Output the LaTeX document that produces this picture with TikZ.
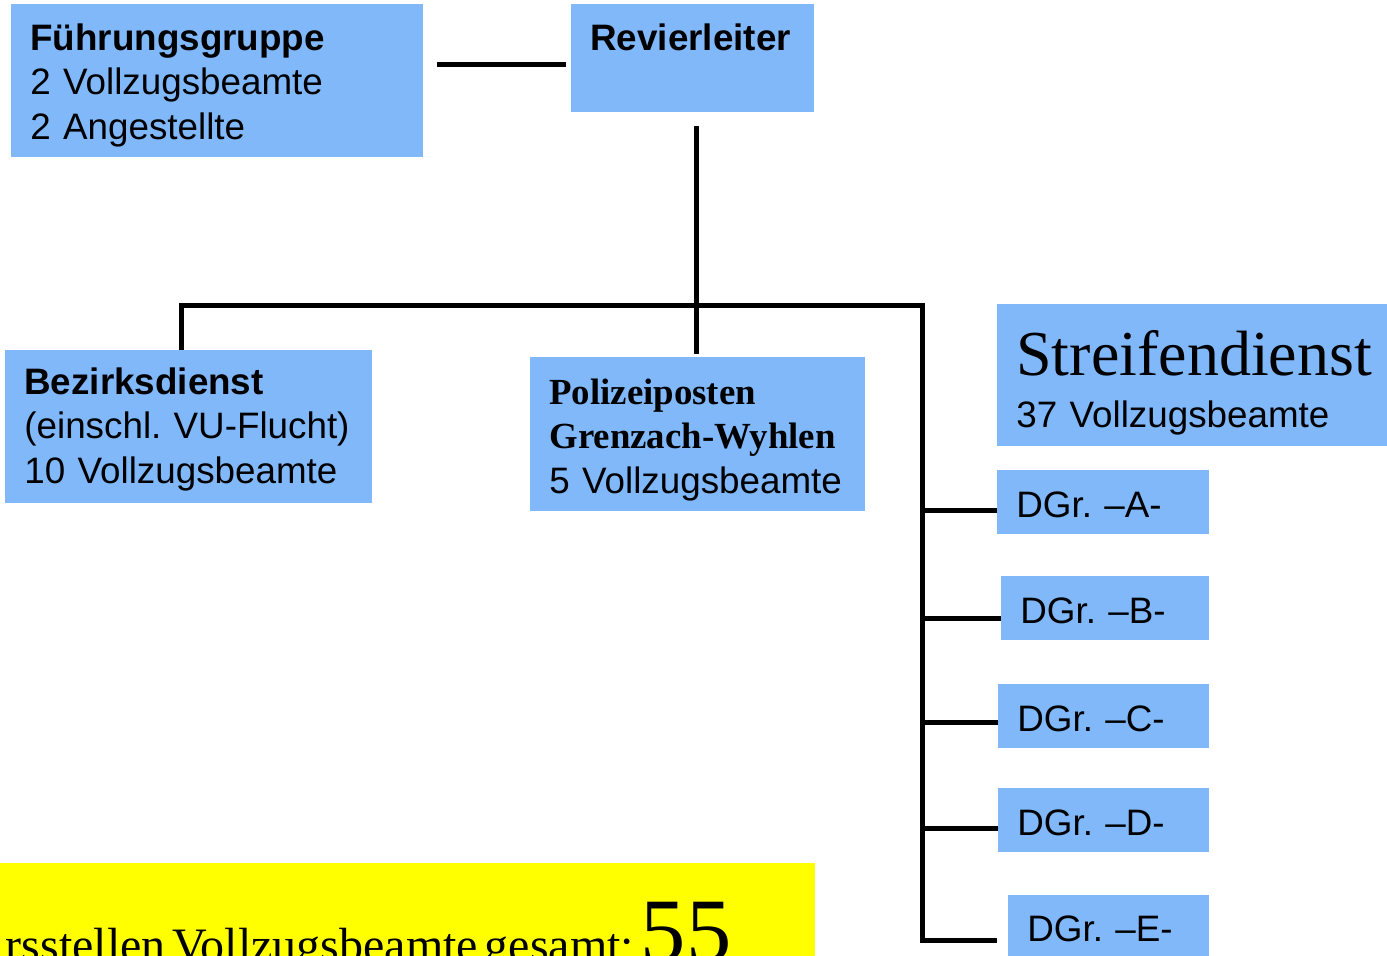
\documentclass[tikz,border=0pt]{standalone}
\usepackage{fontspec}
\setmainfont{Liberation Serif}
\setsansfont{Liberation Sans}
\renewcommand{\familydefault}{\sfdefault}
\frenchspacing

\definecolor{boxblue}{RGB}{128,184,250}
\definecolor{sumyellow}{RGB}{255,255,0}

\tikzset{
  box/.style={fill=boxblue, anchor=north west, inner xsep=9.5pt, inner ysep=0pt,
    align=left, font=\fontsize{18.4pt}{22.2pt}\selectfont},
  conn/.style={line width=2.5pt}
}

\begin{document}
\begin{tikzpicture}[x=0.5pt,y=-0.5pt]
  \useasboundingbox (0,0) rectangle (1387,956);
  % top row
  \node[box, text width=187pt, text height=23pt, text depth=53.5pt] (fg) at (11,4)
    {\textbf{Führungsgruppe}\\2 Vollzugsbeamte\\2 Angestellte};
  \node[box, text width=102.5pt, text height=23pt, text depth=31pt] (rl) at (571,4)
    {\textbf{Revierleiter}};
  % second row
  \node[box, text width=164.5pt, text height=22pt, text depth=54.5pt] (bz) at (5,350)
    {\textbf{Bezirksdienst}\\(einschl. VU-Flucht)\\10 Vollzugsbeamte};
  \node[box, text width=148.5pt, text height=23.5pt, text depth=53.5pt] (pp) at (530,357)
    {{\rmfamily\bfseries Polizeiposten\\Grenzach-Wyhlen}\\5 Vollzugsbeamte};
  \node[box, text width=181pt, text height=35.5pt, text depth=35.5pt] (sd) at (997,304)
    {{\rmfamily\fontsize{32pt}{36pt}\selectfont Streifendienst}\\[4pt]37 Vollzugsbeamte};
  % Dienstgruppen
  \foreach \n/\x/\y/\w in {A/997/470/87,B/1001/576/85,C/998/684/86.5,D/998/788/86.5}
    \node[box, text width=\w pt, text height=23.5pt, text depth=8.5pt] (dg\n) at (\x,\y)
      {DGr. –\n-};
  \node[box, text width=81.5pt, text height=23pt, text depth=22pt] (dgE) at (1008,895)
    {DGr. –E-};
  % sum
  \node[fill=sumyellow, anchor=north west, inner sep=0pt, text width=457.5pt, align=right,
    text height=49pt, text depth=25pt] (sum) at (-100,863)
    {{\rmfamily\fontsize{24pt}{28pt}\selectfont rsstellen Vollzugsbeamte gesamt: }%
     {\rmfamily\fontsize{45.3pt}{50pt}\selectfont 55}\rule{42pt}{0pt}};

  % lines
  \coordinate (spine) at (922,306);
  \draw[conn] ([shift={(13,61)}]fg.north east) -- ([shift={(-5,61)}]rl.north west);
  \draw[conn] ([shift={(3.5,13)}]rl.south) -- ([shift={(-1.5,-3)}]pp.north);
  \draw[conn] ([shift={(-7.5,0)}]bz.north) |- (spine) |- ([shift={(-11,0)}]dgE.west);
  \foreach \n/\d in {A/8,B/10,C/6,D/8}
    \draw[conn] ([shift={(0,\d)}]dg\n.west) -| (spine);
\end{tikzpicture}
\end{document}
